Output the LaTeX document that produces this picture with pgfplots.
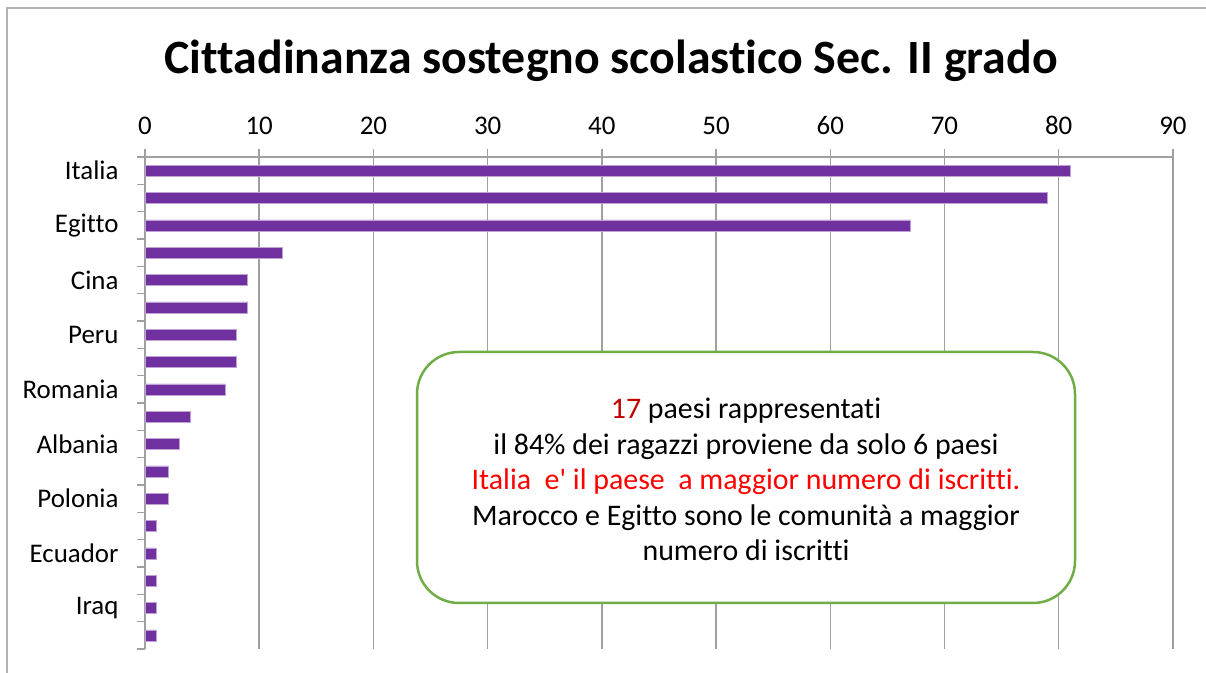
\documentclass[border=0pt]{standalone}
\usepackage{fontspec}
\setmainfont{Carlito}[Ligatures={NoCommon,TeXOff}]
\usepackage{pgfplots}
\pgfplotsset{compat=1.18}
\definecolor{barpurple}{HTML}{7030A0}
\definecolor{gridgray}{HTML}{A0A0A0}
\definecolor{boxgreen}{HTML}{70AD47}
\definecolor{darkred}{HTML}{C00000}
\begin{document}
\begin{tikzpicture}[x=1bp,y=1bp]
\path[use as bounding box] (0bp,0bp) rectangle (1206bp,673bp);
\draw[gridgray!80, line width=1.5bp] (7bp,0bp) -- (7bp,665bp) -- (1206bp,665bp);
\node[font=\fontsize{48}{52}\selectfont\bfseries, anchor=base] at (611bp,599bp)
  {Cittadinanza sostegno scolastico Sec. II grado};
\begin{axis}[
    at={(145bp,24bp)}, anchor=south west,
    scale only axis, width=1028bp, height=492bp,
    xmin=0, xmax=90, ymin=0.5, ymax=18.5,
    axis x line*=top, axis y line*=left,
    axis line style={gridgray, line width=1.5bp},
    xtick={0,10,...,90},
    ytick={18,16,...,2},
    yticklabels={Italia,Egitto,Cina,Peru,Romania,Albania,Polonia,Ecuador,Iraq},
    minor ytick={0.5,1.5,...,18.5},
    tick align=outside,
    major tick length=8bp, minor tick length=8bp,
    major x tick style={gridgray, line width=1.5bp},
    major y tick style={draw=none},
    minor y tick style={gridgray, line width=1.5bp},
    xmajorgrids,
    grid style={gridgray, line width=1.5bp},
    /pgf/number format/assume math mode=true,
    tick label style={font=\fontsize{27}{32}\selectfont},
    xticklabel style={yshift=11bp},
    yticklabel style={xshift=-15bp},
    xbar, bar width=11bp,
]
\addplot[fill=barpurple, draw=barpurple!45, line width=0.6bp] coordinates {
  (81,18) (79,17) (67,16) (12,15) (9,14) (9,13) (8,12) (8,11) (7,10)
  (4,9) (3,8) (2,7) (2,6) (1,5) (1,4) (1,3) (1,2) (1,1)
};
\end{axis}
\draw[boxgreen, line width=2.5bp, rounded corners=42bp, fill=white]
  (417bp,70bp) rectangle (1075bp,321bp);
\node[align=center, font=\fontsize{30}{35.7}\selectfont] at (746bp,193.5bp)
  {{\color{darkred}17} paesi rappresentati\\
   il 84\% dei ragazzi proviene da solo 6 paesi\\
   {\color{red}Italia\ \ e' il paese\ \ a maggior numero di iscritti.}\\
   Marocco e Egitto sono le comunità a maggior\\
   numero di iscritti};
\end{tikzpicture}
\end{document}
